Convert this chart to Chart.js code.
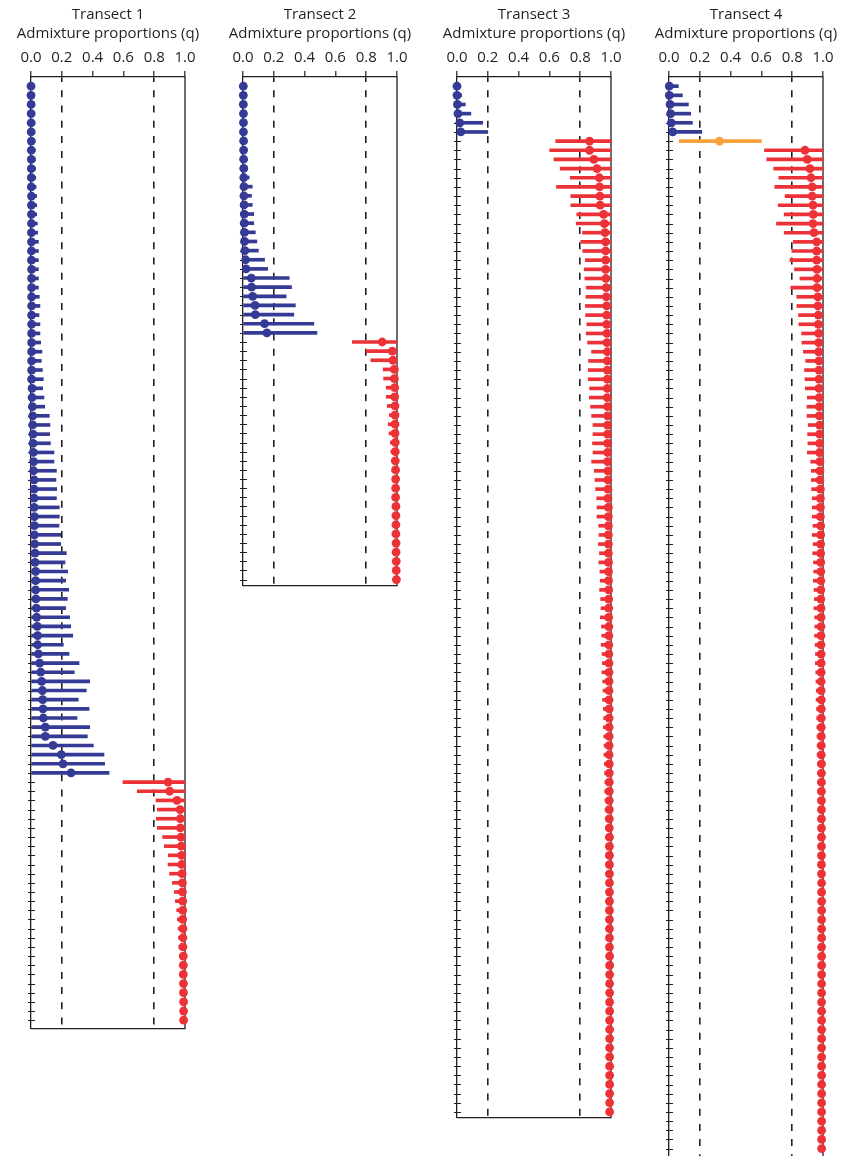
<!DOCTYPE html>
<html><head><meta charset="utf-8">
<script src="https://cdn.jsdelivr.net/npm/chart.js@4/dist/chart.umd.min.js"></script>
<style>
html,body{margin:0;padding:0;background:#fff;overflow:hidden;width:841px;height:1156px;}
canvas{position:absolute;top:0;}
</style></head><body>
<canvas id="c1" width="210" height="1033" style="left:3px"></canvas>
<canvas id="c2" width="210" height="590" style="left:215px"></canvas>
<canvas id="c3" width="210" height="1122" style="left:429px"></canvas>
<canvas id="c4" width="210" height="1175" style="left:641px"></canvas>
<script>
// ---------- data ----------
const xTickValues = [0, 0.2, 0.4, 0.6, 0.8, 1.0];
const thresholds = [0.2, 0.8];
const transectTitles = ['Transect 1', 'Transect 2', 'Transect 3', 'Transect 4'];
const axisTitle = 'Admixture proportions (q)';

// cluster runs (A = blue cluster, B = red cluster, H = hybrid / orange)
const t1Clusters = [['A', 76], ['B', 27]];
const t2Clusters = [['A', 28], ['B', 27]];
const t3Clusters = [['A', 6], ['B', 107]];
const t4Clusters = [['A', 6], ['H', 1], ['B', 110]];

const t1Q = [
 0.000,0.000,0.001,0.001,0.001,0.001,0.002,0.002,0.002,0.002,
 0.002,0.002,0.003,0.003,0.003,0.003,0.003,0.003,0.003,0.003,
 0.004,0.004,0.004,0.004,0.004,0.004,0.004,0.004,0.004,0.004,
 0.004,0.004,0.004,0.007,0.007,0.009,0.011,0.011,0.013,0.013,
 0.015,0.017,0.017,0.020,0.020,0.020,0.020,0.022,0.022,0.022,
 0.024,0.026,0.026,0.030,0.030,0.030,0.032,0.035,0.037,0.041,
 0.043,0.043,0.048,0.056,0.063,0.069,0.074,0.076,0.078,0.080,
 0.093,0.093,0.143,0.197,0.208,0.260,
 0.890,0.900,0.948,0.968,0.970,0.970,0.974,0.976,0.978,0.978,
 0.981,0.983,0.983,0.985,0.985,0.985,0.987,0.987,0.987,0.989,
 0.989,0.989,0.990,0.990,0.991,0.991,0.991
];
const t1Lo = [
 0,0,0,0,0,0,0,0,0,0, 0,0,0,0,0,0,0,0,0,0, 0,0,0,0,0,0,0,0,0,0,
 0,0,0,0,0,0,0,0,0,0, 0,0,0,0,0,0,0,0,0,0, 0,0,0,0,0,0,0,0,0,0,
 0,0,0,0,0,0,0,0,0,0, 0,0,0,0,0,0,
 0.597,0.690,0.812,0.820,0.814,0.820,0.855,0.866,0.892,0.890,
 0.900,0.918,0.931,0.937,0.946,0.950,0.955,0.958,0.960,0.963,
 0.965,0.968,0.970,0.972,0.974,0.976,0.978
];
const t1Hi = [
 0.022,0.022,0.023,0.024,0.025,0.025,0.026,0.027,0.028,0.030,
 0.031,0.033,0.037,0.037,0.037,0.041,0.043,0.048,0.048,0.048,
 0.048,0.048,0.048,0.054,0.058,0.052,0.058,0.058,0.063,0.071,
 0.067,0.074,0.080,0.076,0.084,0.089,0.119,0.123,0.121,0.126,
 0.149,0.149,0.165,0.162,0.167,0.165,0.184,0.184,0.182,0.193,
 0.193,0.229,0.221,0.238,0.225,0.245,0.236,0.225,0.251,0.258,
 0.271,0.210,0.247,0.312,0.281,0.381,0.359,0.307,0.377,0.299,
 0.381,0.366,0.405,0.474,0.478,0.507,
 1,1,1,1,1,1,1,1,1,1, 1,1,1,1,1,1,1,1,1,1, 1,1,1,1,1,1,1
];

const t2Q = [
 0.002,0.002,0.002,0.003,0.003,0.003,0.004,0.004,0.004,0.005,
 0.005,0.006,0.006,0.007,0.008,0.008,0.009,0.010,0.012,0.017,
 0.020,0.054,0.056,0.063,0.078,0.080,0.140,0.155,
 0.904,0.970,0.974,0.983,0.983,0.985,0.985,0.987,0.987,0.987,
 0.987,0.989,0.989,0.989,0.991,0.991,0.991,0.991,0.993,0.993,
 0.993,0.993,0.994,0.994,0.995,0.995,0.996
];
const t2Lo = [
 0,0,0,0,0,0,0,0,0,0, 0,0,0,0,0,0,0,0,0,0, 0,0,0,0,0,0,0,0,
 0.710,0.800,0.830,0.910,0.913,0.930,0.930,0.937,0.950,0.943,
 0.948,0.957,0.960,0.965,0.968,0.970,0.972,0.972,0.975,0.976,
 0.977,0.978,0.979,0.980,0.981,0.982,0.983
];
const t2Hi = [
 0.020,0.020,0.020,0.022,0.022,0.023,0.024,0.025,0.026,0.028,
 0.040,0.060,0.055,0.060,0.070,0.070,0.080,0.090,0.100,0.140,
 0.160,0.300,0.315,0.280,0.340,0.330,0.460,0.480,
 1,1,1,1,1,1,1,1,1,1, 1,1,1,1,1,1,1,1,1,1, 1,1,1,1,1,1,1
];

const t3Q = [
 0.000,0.000,0.003,0.006,0.018,0.025,
 0.861,0.861,0.889,0.909,0.924,0.926,0.928,0.930,0.952,0.957,
 0.961,0.965,0.965,0.965,0.965,0.967,0.970,0.970,0.972,0.972,
 0.972,0.974,0.974,0.976,0.976,0.976,0.976,0.976,0.976,0.978,
 0.978,0.978,0.978,0.978,0.978,0.978,0.980,0.980,0.980,0.980,
 0.983,0.983,0.983,0.983,
 0.983,0.983,0.984,0.984,0.984,0.985,0.985,0.985,0.985,0.986,
 0.986,0.986,0.986,0.987,0.987,0.987,0.987,0.987,0.988,0.988,
 0.988,0.988,0.988,0.988,0.989,0.989,0.989,0.989,0.989,0.989,
 0.989,0.989,0.990,0.990,0.990,0.990,0.990,0.990,0.990,0.990,
 0.990,0.990,0.990,0.990,0.990,0.991,0.991,0.991,0.991,0.991,
 0.991,0.991,0.991,0.991,0.991,0.991,0.991,0.991,0.991,0.991,
 0.991,0.991,0.991
];
const t3Lo = [
 0,0,0,0,0,0,
 0.641,0.602,0.630,0.670,0.735,0.646,0.739,0.739,0.778,0.774,
 0.815,0.804,0.817,0.833,0.826,0.830,0.839,0.837,0.833,0.835,
 0.843,0.839,0.848,0.874,0.854,0.852,0.852,0.861,0.859,0.867,
 0.874,0.883,0.883,0.880,0.883,0.874,0.891,0.896,0.900,0.907,
 0.909,0.909,0.920,0.922,
 0.918,0.925,0.921,0.928,0.930,0.926,0.933,0.935,0.931,0.938,
 0.940,0.936,0.942,0.944,0.941,0.946,0.948,0.945,0.950,0.952,
 0.950,0.953,0.955,0.954,0.957,0.958,0.960,0.959,0.961,0.962,
 0.963,0.964,0.965,0.966,0.966,0.967,0.968,0.969,0.970,0.970,
 0.971,0.972,0.972,0.973,0.974,0.974,0.975,0.975,0.976,0.976,
 0.977,0.977,0.978,0.978,0.978,0.979,0.979,0.980,0.980,0.980,
 0.981,0.981,0.981
];
const t3Hi = [
 0.020,0.030,0.054,0.090,0.167,0.200,
 1,1,1,1,1,1,1,1,1,1, 1,1,1,1,1,1,1,1,1,1, 1,1,1,1,1,1,1,1,1,1,
 1,1,1,1,1,1,1,1,1,1, 1,1,1,1,1,1,1,1,1,1, 1,1,1,1,1,1,1,1,1,1,
 1,1,1,1,1,1,1,1,1,1, 1,1,1,1,1,1,1,1,1,1, 1,1,1,1,1,1,1,1,1,1,
 1,1,1,1,1,1,1,1,1,1, 1,1,1,1,1,1,1
];

const t4Q = [
 0.002,0.002,0.007,0.011,0.015,0.024,
 0.328,
 0.883,0.898,0.915,
 0.922,0.930,0.930,0.935,0.937,0.935,0.941,0.959,0.959,0.959,
 0.961,0.961,0.961,0.967,0.967,0.970,0.970,0.972,0.972,0.972,
 0.974,0.974,0.974,0.974,0.976,0.976,0.976,0.978,0.978,0.978,
 0.978,0.980,0.980,0.980,0.983,0.983,0.983,0.983,0.985,0.985,
 0.985,0.985,0.985,0.986,0.986,0.986,0.986,0.987,0.987,0.987,
 0.987,0.987,0.988,0.988,0.988,0.988,0.988,0.989,0.989,0.989,
 0.989,0.989,0.989,0.989,0.990,0.990,0.990,0.990,0.990,0.990,
 0.990,0.990,0.990,0.990,0.990,0.990,0.990,0.991,0.991,0.991,
 0.991,0.991,0.991,0.991,0.991,0.991,0.991,0.991,0.991,0.991,
 0.991,0.991,0.991,0.991,0.991,0.991,0.991,0.991,0.991,0.991,
 0.991,0.991,0.991,0.991,0.991,0.991,0.991
];
const t4Lo = [
 0,0,0,0,0,0,
 0.067,
 0.620,0.635,0.680,
 0.713,0.687,0.754,0.709,0.748,0.698,0.748,0.807,0.798,0.785,
 0.815,0.850,0.791,0.830,0.830,0.841,0.843,0.861,0.863,0.872,
 0.887,0.880,0.883,0.885,0.898,0.896,0.896,0.904,0.900,0.902,
 0.898,0.920,0.924,0.924,0.926,0.930,0.930,0.930,0.935,0.930,
 0.936,0.933,0.938,0.940,0.937,0.942,0.944,0.941,0.946,0.947,
 0.945,0.949,0.951,0.950,0.953,0.954,0.956,0.955,0.958,0.959,
 0.960,0.961,0.962,0.962,0.964,0.965,0.966,0.966,0.967,0.968,
 0.969,0.969,0.970,0.971,0.971,0.972,0.972,0.973,0.974,0.974,
 0.975,0.975,0.976,0.976,0.977,0.977,0.977,0.978,0.978,0.978,
 0.979,0.979,0.979,0.980,0.980,0.980,0.980,0.981,0.981,0.981,
 0.981,0.981,0.982,0.982,0.982,0.982,0.982
];
const t4Hi = [
 0.061,0.087,0.126,0.141,0.152,0.213,
 0.600,
 1,1,1,1,1,1,1,1,1,1, 1,1,1,1,1,1,1,1,1,1, 1,1,1,1,1,1,1,1,1,1,
 1,1,1,1,1,1,1,1,1,1, 1,1,1,1,1,1,1,1,1,1, 1,1,1,1,1,1,1,1,1,1,
 1,1,1,1,1,1,1,1,1,1, 1,1,1,1,1,1,1,1,1,1, 1,1,1,1,1,1,1,1,1,1,
 1,1,1,1,1,1,1,1,1,1, 1,1,1,1,1,1,1,1,1,1
];

// ---------- style ----------
const clusterColors = { A: '#353b95', B: '#ed3237', H: '#f6a13a' };
const ink = '#231f20';
const FONT = "'Open Sans', 'DejaVu Sans', sans-serif";
const FS = 15;
Chart.defaults.font.family = FONT;
Chart.defaults.font.size = FS;
Chart.defaults.color = ink;

const isThreshold = v => thresholds.some(t => Math.abs(t - v) < 1e-6);

const rowTicksAndFrame = {
  id: 'rowTicksAndFrame',
  beforeDatasetsDraw(chart) {
    const { ctx, chartArea, scales: { x, y } } = chart;
    const n = chart.data.datasets[0].data.length;
    ctx.save();
    ctx.strokeStyle = ink;
    ctx.lineWidth = 1;
    ctx.beginPath();
    for (let i = 1; i <= n; i++) {
      const py = Math.round(y.getPixelForValue(i)) + 0.5;
      ctx.moveTo(chartArea.left - 3, py);
      ctx.lineTo(chartArea.left + 4, py);
    }
    ctx.stroke();
    const xr = x.getPixelForValue(xTickValues[xTickValues.length - 1]);
    ctx.lineWidth = 1.3;
    ctx.beginPath();
    ctx.moveTo(xr, chartArea.top);
    ctx.lineTo(xr, chartArea.bottom);
    ctx.lineTo(chartArea.left, chartArea.bottom);
    ctx.stroke();
    ctx.restore();
  }
};

function expandRuns(runs) {
  const out = [];
  runs.forEach(([c, k]) => { for (let i = 0; i < k; i++) out.push(c); });
  return out;
}

function makeChart(id, title, q, lo, hi, runs, yMax) {
  const clusters = expandRuns(runs);
  const colors = clusters.map(c => clusterColors[c]);
  const points = q.map((v, i) => ({ x: v, y: i + 1 }));
  const bars = q.map((v, i) => ({ x: [lo[i], hi[i]], y: i + 1 }));
  new Chart(document.getElementById(id), {
    type: 'bar',
    data: {
      datasets: [
        { type: 'scatter', data: points, backgroundColor: colors, borderWidth: 0,
          pointRadius: 4.4, pointHoverRadius: 4.4, order: 0, clip: false },
        { type: 'bar', data: bars, backgroundColor: colors, borderWidth: 0,
          barThickness: 3, borderSkipped: false, order: 1, clip: false }
      ]
    },
    options: {
      indexAxis: 'y',
      responsive: false,
      animation: false,
      events: [],
      layout: { padding: { left: 3, right: 3, top: 0, bottom: 2 } },
      plugins: {
        legend: { display: false },
        tooltip: { enabled: false },
        title: { display: true, text: title, color: ink,
                 font: { size: FS, weight: 'normal', family: FONT },
                 padding: { top: 6, bottom: 0.5 } },
        subtitle: { display: true, text: axisTitle, color: ink,
                 font: { size: FS, weight: 'normal', family: FONT },
                 padding: { top: 0, bottom: 2.5 } }
      },
      scales: {
        x: {
          type: 'linear', position: 'top', min: 0, max: 1,
          afterBuildTicks: s => { s.ticks = xTickValues.map(v => ({ value: v })); },
          ticks: { callback: v => Number(v).toFixed(1), padding: 4, color: ink,
                   font: { size: FS }, maxRotation: 0, autoSkip: false },
          grid: {
            color: c => (c.tick && isThreshold(c.tick.value)) ? ink : 'rgba(0,0,0,0)',
            tickColor: ink, tickLength: 6, lineWidth: 1.6, tickWidth: 1.2,
            tickBorderDash: [], drawOnChartArea: true
          },
          border: { display: true, color: ink, width: 1.3, dash: [7, 8.2], dashOffset: 2.2 }
        },
        y: {
          type: 'linear', position: 'left', reverse: true, min: 0, max: yMax, offset: false,
          ticks: { display: false },
          grid: { display: false, drawTicks: true, tickLength: 25, offset: false },
          border: { display: true, color: ink, width: 1.3 }
        },
        yRight: {
          type: 'linear', position: 'right', display: true, min: 0, max: 1,
          ticks: { display: false },
          grid: { display: false, drawTicks: true, tickLength: 25 },
          border: { display: false }
        }
      }
    },
    plugins: [rowTicksAndFrame]
  });
}

makeChart('c1', transectTitles[0], t1Q, t1Lo, t1Hi, t1Clusters, 103.92);
makeChart('c2', transectTitles[1], t2Q, t2Lo, t2Hi, t2Clusters, 55.66);
makeChart('c3', transectTitles[2], t3Q, t3Lo, t3Hi, t3Clusters, 113.62);
makeChart('c4', transectTitles[3], t4Q, t4Lo, t4Hi, t4Clusters, 119.4);
</script>
</body></html>
